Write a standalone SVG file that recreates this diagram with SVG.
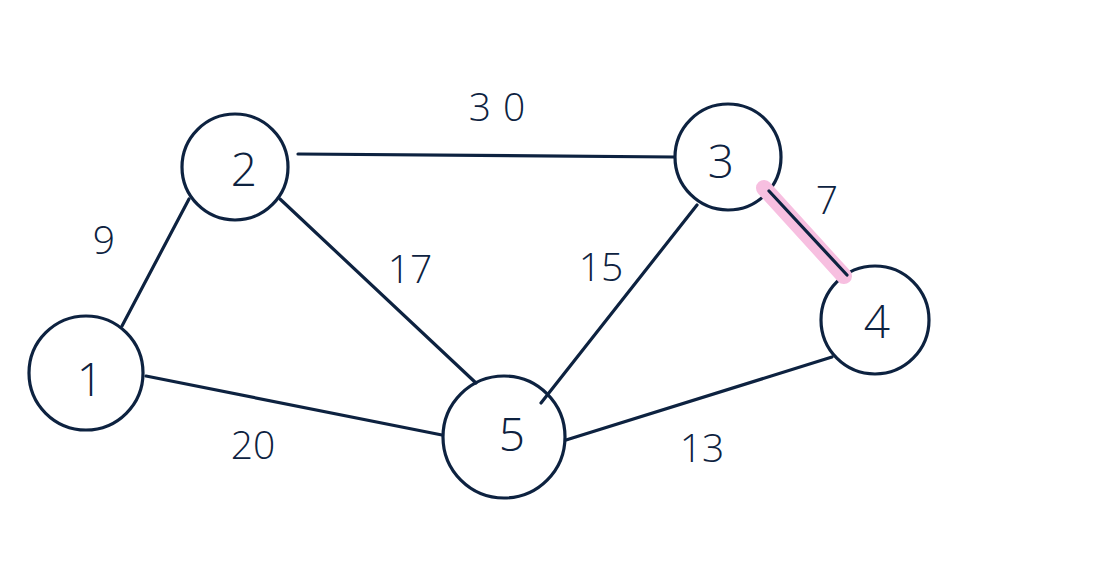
<svg xmlns="http://www.w3.org/2000/svg" width="1099" height="587" viewBox="0 0 1099 587">
<style>
.n{fill:none;stroke:#0d2240;stroke-width:3.2}
.e{stroke:#0d2240;stroke-width:3.2;fill:none;stroke-linecap:round}
.t{font-family:"Open Sans","Liberation Sans",sans-serif;font-weight:300;fill:#0d2240;text-anchor:middle;dominant-baseline:central}
.nt{font-size:46px}
.et{font-size:39px}
</style>
<rect width="1099" height="587" fill="#ffffff"/>
<g id="node1"><circle class="n" cx="86" cy="373" r="57"/><text class="t nt" x="90" y="378">1</text></g>
<g id="node2"><circle class="n" cx="235" cy="167" r="53"/><text class="t nt" x="244" y="168">2</text></g>
<g id="node3"><circle class="n" cx="728" cy="157" r="53"/><text class="t nt" x="721" y="160">3</text></g>
<g id="node4"><circle class="n" cx="875" cy="320" r="54"/><text class="t nt" x="877" y="320">4</text></g>
<g id="node5"><circle class="n" cx="504" cy="437" r="61"/><text class="t nt" x="512" y="433">5</text></g>
<g id="connectors">
<line x1="764" y1="188" x2="844" y2="276" stroke="#f7bfe0" stroke-width="16" stroke-linecap="round"/>
<line class="e" x1="122" y1="326" x2="189" y2="199"/>
<line class="e" x1="298" y1="154" x2="674" y2="157"/>
<line class="e" x1="280" y1="199" x2="476" y2="383"/>
<line class="e" x1="697" y1="205" x2="541" y2="403"/>
<line class="e" x1="769" y1="191" x2="847" y2="275"/>
<line class="e" x1="146" y1="376" x2="442" y2="435"/>
<line class="e" x1="566" y1="440" x2="832" y2="357"/>
<text class="t et" x="503" y="105" letter-spacing="12">30</text>
<text class="t et" x="104" y="238">9</text>
<text class="t et" x="410" y="267">17</text>
<text class="t et" x="601" y="265">15</text>
<text class="t et" x="827" y="198">7</text>
<text class="t et" x="253" y="443">20</text>
<text class="t et" x="702" y="446">13</text>
</g>
</svg>
